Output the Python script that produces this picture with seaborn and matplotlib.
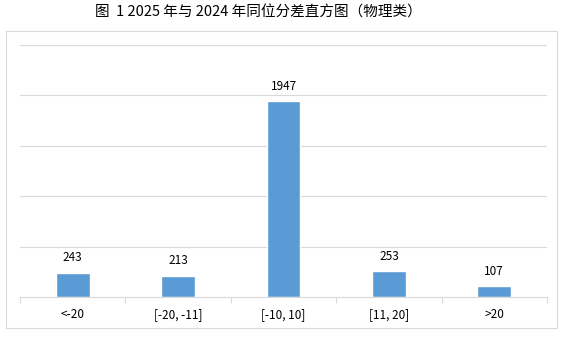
import matplotlib
matplotlib.use("Agg")
import matplotlib.pyplot as plt
from matplotlib.patches import Rectangle
import seaborn as sns
import pandas as pd
import numpy as np

categories = ["<-20", "[-20, -11]", "[-10, 10]", "[11, 20]", ">20"]
values = [243, 213, 1947, 253, 107]
title = "图  1 2025 年与 2024 年同位分差直方图（物理类）"

sns.set_theme(style="white")
plt.rcParams['font.family'] = ['Noto Sans CJK SC', 'DejaVu Sans']

df = pd.DataFrame({"cat": categories, "val": values})

fig = plt.figure(figsize=(5.65, 3.37), dpi=100)
ax = fig.add_axes([20/565, 1-297/337, 527/565, 252/337])

sns.barplot(data=df, x="cat", y="val", color="#5b9bd5", saturation=1, width=0.32, ax=ax)

ax.set_ylim(0, 2500)
ax.set_xlim(-0.5, len(categories) - 0.5)
ax.set_yticks([500, 1000, 1500, 2000, 2500])
ax.yaxis.grid(True, color="#d9d9d9", linewidth=0.8)
ax.set_axisbelow(True)
ax.tick_params(axis="y", left=False, labelleft=False)
ax.set_xlabel("")
ax.set_ylabel("")
for s in ["top", "right", "left"]:
    ax.spines[s].set_visible(False)
ax.spines["bottom"].set_color("#d9d9d9")
ax.spines["bottom"].set_linewidth(0.8)

ax.set_xticks(range(len(categories)))
ax.set_xticklabels(categories, fontsize=8.5, color="#000000")
ax.tick_params(axis="x", which="major", length=0, pad=8)
ax.set_xticks(np.arange(-0.5, len(categories), 1.0), minor=True)
ax.tick_params(axis="x", which="minor", length=4, color="#d9d9d9", width=0.8, bottom=True)

for i, v in enumerate(values):
    ax.text(i, v + 80, str(v), ha="center", va="bottom", fontsize=8.5, color="#000000")

fig.text(258/565, 1 - 13/337, title, ha="center", va="center", fontsize=10.5, color="#000000")

fig.patches.append(Rectangle((6/565, 1-328/337), 551/565, 297/337, transform=fig.transFigure,
                             fill=False, edgecolor="#d9d9d9", linewidth=0.8))

fig.savefig("out.png", dpi=100)
